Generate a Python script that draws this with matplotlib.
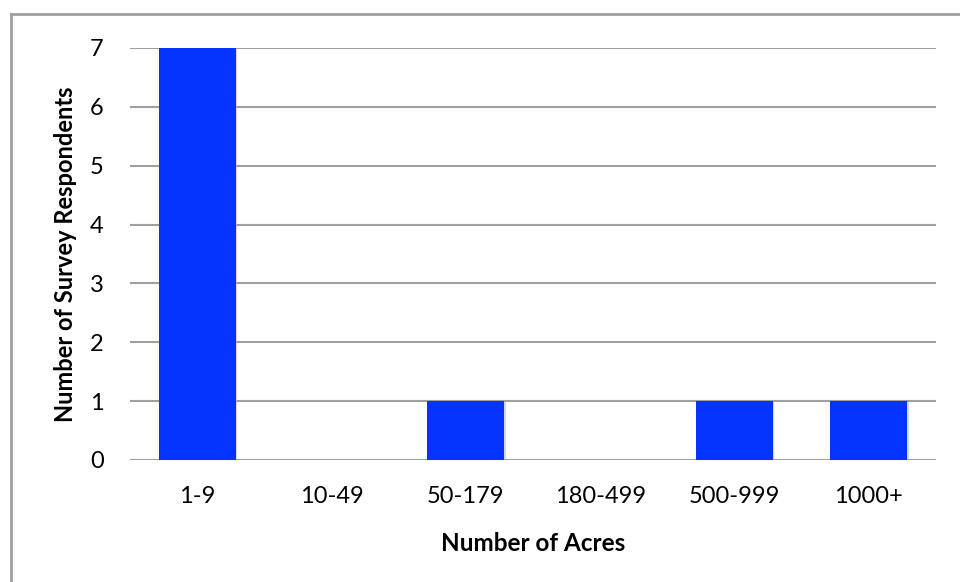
import matplotlib.pyplot as plt
import matplotlib.patheffects as pe
from matplotlib.lines import Line2D

# Survey responses grouped by farm size
acre_ranges = ["1-9", "10-49", "50-179", "180-499", "500-999", "1000+"]
respondents = [7, 0, 1, 0, 1, 1]

plt.rcParams['font.family'] = ['Lato', 'DejaVu Sans']

fig = plt.figure(figsize=(9.6, 5.82), dpi=100)
ax = fig.add_axes([130 / 960, 1 - 460 / 582, 806 / 960, 412 / 582])

x = range(len(acre_ranges))
bars = ax.bar(x, respondents, width=0.575, color="#0433ff", zorder=3)
# faint drop shadow around each bar
for b in bars:
    b.set_path_effects([pe.SimplePatchShadow(offset=(0.8, -0.8), shadow_rgbFace="#b0b0b0", alpha=0.5),
                        pe.Normal()])

ax.set_xlim(-0.5, len(acre_ranges) - 0.5)
ax.set_ylim(0, 7)
ax.set_yticks(range(0, 8))
ax.set_xticks(list(x))
ax.set_xticklabels(acre_ranges)
ax.tick_params(axis='both', length=0, labelsize=17)
ax.tick_params(axis='x', pad=19)
ax.tick_params(axis='y', pad=19)

ax.yaxis.grid(True, color="#a0a0a0", linewidth=1.5, zorder=0)
ax.set_axisbelow(True)
for side in ax.spines.values():
    side.set_visible(False)

ax.set_xlabel("Number of Acres", fontsize=17.5, fontweight='bold', labelpad=18)
ax.set_ylabel("Number of Survey Respondents", fontsize=17, fontweight='bold', labelpad=9)

# Chart frame (only the top and left edges fall inside the canvas)
frame_kw = dict(color="#a0a0a0", linewidth=2, transform=fig.transFigure)
fig.add_artist(Line2D([11 / 960, 11 / 960], [0, 1 - 14 / 582], **frame_kw))
fig.add_artist(Line2D([11 / 960, 1], [1 - 14 / 582, 1 - 14 / 582], **frame_kw))

fig.savefig("out.png", dpi=100)
